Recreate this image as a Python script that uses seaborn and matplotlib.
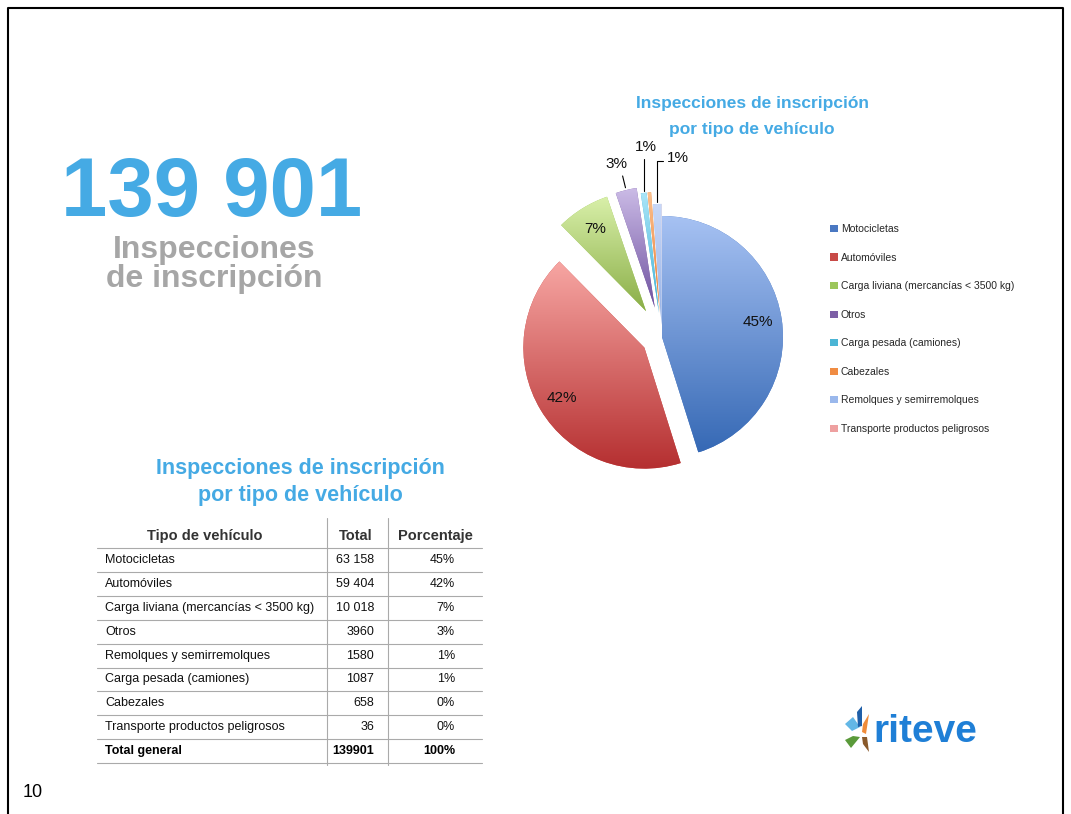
import numpy as np
import matplotlib
matplotlib.use("Agg")
import matplotlib.pyplot as plt
import seaborn as sns
from matplotlib.colors import LinearSegmentedColormap
from matplotlib.patches import Polygon

# datos (orden del gráfico / leyenda)
tipos = ['Motocicletas', 'Automóviles', 'Carga liviana (mercancías < 3500 kg)', 'Otros',
         'Carga pesada (camiones)', 'Cabezales', 'Remolques y semirremolques',
         'Transporte productos peligrosos']
totales = [63158, 59404, 10018, 3960, 1087, 658, 1580, 36]
total_general = 139901

colores = ['#4a78c2', '#c84a47', '#9cc65b', '#7d5fa6', '#4bb5d5', '#f08c43', '#9ab8ec', '#eea0a0']
grad_top = ['#a7c2f3', '#f7a6a3', '#d9f0aa', '#cbbbe6', '#aae5f8', '#fbc18f', '#c8d8f8', '#f8c2c2']
grad_bot = ['#3669b5', '#b52f30', '#8aae47', '#6f52a0', '#3fb0d5', '#e9782f', '#95b1e6', '#df8c8c']
explode = [0, 0.17, 0.25, 0.25, 0.2, 0.2, 0.1, 0.1]

azul = '#45aae4'
gris = '#a6a6a6'

sns.set_theme(style="white")
plt.rcParams['font.family'] = ['Liberation Sans', 'DejaVu Sans']

fig = plt.figure(figsize=(10.71, 8.14), dpi=100)
fig.patch.set_facecolor('white')

# capa de fondo en pixeles
bg = fig.add_axes([0, 0, 1, 1])
bg.set_xlim(0, 1071)
bg.set_ylim(814, 0)
bg.axis('off')

# marco de la diapositiva
bg.plot([8, 8, 1063, 1063], [814, 8, 8, 814], color='black', lw=1.5)

# cifra principal
bg.text(212, 216, '139 901', color=azul, fontsize=60, fontweight='bold', ha='center', va='baseline')
bg.text(214, 258, 'Inspecciones', color=gris, fontsize=23, fontweight='bold', ha='center', va='baseline')
bg.text(214, 287, 'de inscripción', color=gris, fontsize=23, fontweight='bold', ha='center', va='baseline')

# titulos
bg.text(752, 108, 'Inspecciones de inscripción', color=azul, fontsize=12.5, fontweight='bold', ha='center', va='baseline')
bg.text(752, 134, 'por tipo de vehículo', color=azul, fontsize=12.5, fontweight='bold', ha='center', va='baseline')
bg.text(300, 474, 'Inspecciones de inscripción', color=azul, fontsize=15.5, fontweight='bold', ha='center', va='baseline')
bg.text(300, 501, 'por tipo de vehículo', color=azul, fontsize=15.5, fontweight='bold', ha='center', va='baseline')

# --- tabla ---
orden = np.argsort(totales)[::-1]
x0, x1, x2, x3 = 97, 327, 388, 482
y_head = 548
alto = 23.9
n = len(orden) + 1
bg.plot([x1, x1], [518, y_head + alto * n + 2], color='#aaaaaa', lw=0.8)
bg.plot([x2, x2], [518, y_head + alto * n + 2], color='#aaaaaa', lw=0.8)
for k in range(n + 1):
    y = y_head + alto * k
    bg.plot([x0, x3], [y, y], color='#aaaaaa', lw=0.8)

bg.text(205, 536, 'Tipo de vehículo', fontsize=10.5, fontweight='bold', color='#333333', ha='center', va='center')
bg.text(356, 536, 'Total', fontsize=10.5, fontweight='bold', color='#333333', ha='center', va='center')
bg.text(435, 536, 'Porcentaje', fontsize=10.5, fontweight='bold', color='#333333', ha='center', va='center')


def fmt(v):
    return f"{v:,}".replace(',', ' ') if v >= 10000 else str(v)


for k, i in enumerate(orden):
    y = y_head + alto * (k + 0.5)
    pct = round(totales[i] / total_general * 100)
    bg.text(105, y, tipos[i], fontsize=9, color='#111111', ha='left', va='center')
    bg.text(374, y, fmt(totales[i]), fontsize=9, color='#111111', ha='right', va='center')
    bg.text(455, y, f'{pct}%', fontsize=9, color='#111111', ha='right', va='center')
y = y_head + alto * (n - 0.5)
bg.text(105, y, 'Total general', fontsize=9, fontweight='bold', color='black', ha='left', va='center')
bg.text(374, y, str(total_general), fontsize=9, fontweight='bold', color='black', ha='right', va='center')
bg.text(455, y, '100%', fontsize=9, fontweight='bold', color='black', ha='right', va='center')

# numero de pagina
bg.text(33, 797, '10', fontsize=13, color='black', ha='center', va='baseline')

# logo
hojas = [
    ([(845, 724), (853, 717), (860, 727), (852, 731)], '#63b7e6'),
    ([(857, 712), (862, 706), (862, 726), (858, 727)], '#1f5fa8'),
    ([(863, 724), (869, 714), (866, 734), (862, 732)], '#f08c3a'),
    ([(862, 737), (867, 737), (869, 752), (863, 744)], '#8a5a2b'),
    ([(845, 740), (853, 736), (860, 737), (851, 748)], '#5a9a3a'),
]
for pts, c in hojas:
    bg.add_patch(Polygon(pts, closed=True, color=c, lw=0))
bg.text(873, 732, 'riteve', fontsize=28, fontweight='bold', color='#1f7fd6', ha='left', va='center')

# --- pastel ---
r_px = 121
cx, cy = 662, 337
ax = fig.add_axes([(cx - 1.5 * r_px) / 1071, 1 - (cy + 1.5 * r_px) / 814, 3 * r_px / 1071, 3 * r_px / 814])
ax.set_facecolor('none')
wedges, _ = ax.pie(totales, colors=colores, startangle=90, counterclock=False,
                   explode=explode, radius=1, wedgeprops=dict(linewidth=0))

grad = np.linspace(0, 1, 256).reshape(-1, 1)
for w, top, bot in zip(wedges, grad_top, grad_bot):
    ext = w.get_path().get_extents()
    cmap = LinearSegmentedColormap.from_list('g', [bot, top])
    im = ax.imshow(grad, cmap=cmap, origin='lower', aspect='auto',
                   extent=[ext.x0, ext.x1, ext.y0, ext.y1], zorder=w.get_zorder() + 0.1)
    im.set_clip_path(w)

ax.set_xlim(-1.5, 1.5)
ax.set_ylim(-1.5, 1.5)
ax.set_aspect('equal')
ax.axis('off')

pcts = [round(v / total_general * 100) for v in totales]
for i, w in enumerate(wedges):
    th = np.deg2rad((w.theta1 + w.theta2) / 2)
    d = np.array([np.cos(th), np.sin(th)])
    c = np.array(w.center)
    txt = f'{pcts[i]}%'
    if pcts[i] >= 5:
        p = c + 0.8 * d
        ax.text(p[0], p[1], txt, fontsize=11, ha='center', va='center', color='#111111')
    elif i == 3:
        a, b = c + 1.02 * d, c + 1.12 * d
        ax.plot([a[0], b[0]], [a[1], b[1]], color='black', lw=0.8)
        p = c + 1.22 * d
        ax.text(p[0] - 0.03, p[1], txt, fontsize=11, ha='center', va='center', color='#111111')
    elif i == 4:
        o = c + 1.0 * d
        ax.plot([o[0], o[0]], [o[1] + 0.02, o[1] + 0.28], color='black', lw=0.8)
        ax.text(o[0] + 0.02, o[1] + 0.38, txt, fontsize=11, ha='center', va='center', color='#111111')
    elif i == 6:
        o = c + 1.0 * d
        ax.plot([o[0], o[0], o[0] + 0.05], [o[1] + 0.02, o[1] + 0.355, o[1] + 0.355], color='black', lw=0.8)
        ax.text(o[0] + 0.08, o[1] + 0.38, txt, fontsize=11, ha='left', va='center', color='#111111')

fig.legend(wedges, tipos, loc='upper left', bbox_to_anchor=(825 / 1071, 1 - 219 / 814),
           frameon=False, fontsize=7.5, handlelength=0.7, handleheight=0.7,
           handletextpad=0.3, labelspacing=1.78, borderpad=0)

fig.savefig('out.png', dpi=100)
